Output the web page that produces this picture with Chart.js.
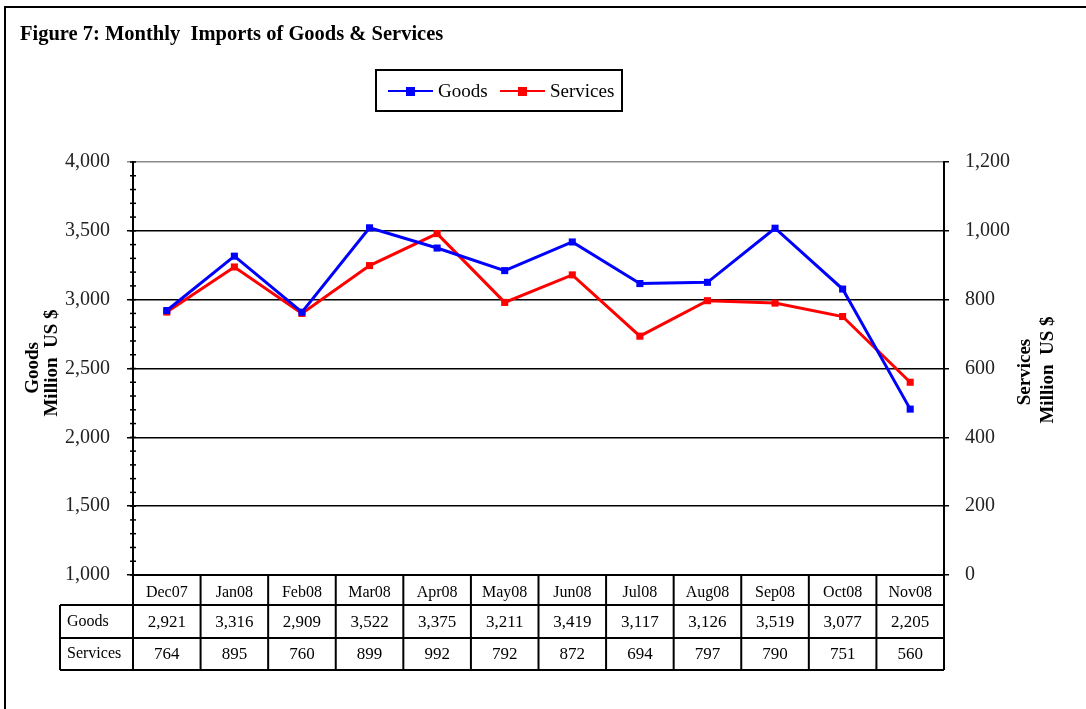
<!DOCTYPE html>
<html>
    <head>
        <title> Figure 7 </title>
        <meta charset="utf-8">
        <script src="https://cdn.jsdelivr.net/npm/chart.js"></script>
        <style>
            body { margin: 0; background: #fff; }
            canvas { display: block; }
        </style>
    </head>
    <body>
        <canvas id="ImportsChart" width="1086" height="709"></canvas>

        <script>
         // data
         const months = ['Dec07', 'Jan08', 'Feb08', 'Mar08', 'Apr08', 'May08', 'Jun08', 'Jul08', 'Aug08', 'Sep08', 'Oct08', 'Nov08'];
         const goods = [2921, 3316, 2909, 3522, 3375, 3211, 3419, 3117, 3126, 3519, 3077, 2205];
         const services = [764, 895, 760, 899, 992, 792, 872, 694, 797, 790, 751, 560];
         const goodsTicks = [1000, 1500, 2000, 2500, 3000, 3500, 4000];
         const servicesTicks = [0, 200, 400, 600, 800, 1000, 1200];

         const serif = '"Liberation Serif", "Times New Roman", serif';
         const fmt = v => v.toLocaleString('en-US');

         // frame, title, legend, axis titles, minor ticks, data table
         const extras = {
            id: 'extras',
            beforeDraw(chart) {
               const c = chart.ctx;
               c.save();
               c.fillStyle = '#fff';
               c.fillRect(0, 0, chart.width, chart.height);
               c.restore();
            },
            afterDraw(chart) {
               const c = chart.ctx;
               const x = chart.scales.x;
               const yl = chart.scales.y;
               c.save();

               // outer frame
               c.strokeStyle = '#000';
               c.lineWidth = 2;
               c.beginPath();
               c.moveTo(1086, 7);
               c.lineTo(5, 7);
               c.lineTo(5, 709);
               c.stroke();

               // title
               c.fillStyle = '#000';
               c.font = 'bold 20.5px ' + serif;
               c.textAlign = 'left';
               c.textBaseline = 'alphabetic';
               c.fillText('Figure 7: Monthly  Imports of Goods & Services', 20, 40);

               // legend
               c.lineWidth = 2;
               c.strokeRect(376, 70, 246, 41);
               c.font = '19px ' + serif;
               c.textBaseline = 'middle';
               let lx = 388;
               chart.data.datasets.forEach(ds => {
                  c.strokeStyle = ds.borderColor;
                  c.lineWidth = 2;
                  c.beginPath();
                  c.moveTo(lx, 91);
                  c.lineTo(lx + 45, 91);
                  c.stroke();
                  c.fillStyle = ds.borderColor;
                  c.fillRect(lx + 18, 87, 9, 9);
                  c.fillStyle = '#000';
                  c.fillText(ds.label, lx + 50, 92);
                  lx += 112;
               });

               // axis titles
               c.font = 'bold 19px ' + serif;
               c.textAlign = 'center';
               [[33, 368, 'Goods'], [52, 363, 'Million  US $'],
                [1025, 372, 'Services'], [1048, 370, 'Million  US $']].forEach(t => {
                  c.save();
                  c.translate(t[0], t[1]);
                  c.rotate(-Math.PI / 2);
                  c.fillText(t[2], 0, 0);
                  c.restore();
               });

               // minor ticks on the goods axis
               c.strokeStyle = '#000';
               c.lineWidth = 1.5;
               for (let v = yl.min; v <= yl.max; v += 100) {
                  const py = yl.getPixelForValue(v);
                  c.beginPath();
                  c.moveTo(yl.right - 3, py);
                  c.lineTo(yl.right + 3, py);
                  c.stroke();
               }

               // data table under the plot
               const half = (x.getPixelForValue(1) - x.getPixelForValue(0)) / 2;
               const top = x.top, r1 = 605, r2 = 638, r3 = 670, labLeft = 60;
               c.lineWidth = 2;
               c.beginPath();
               c.moveTo(x.left, top); c.lineTo(x.left, r3);
               for (let i = 0; i < months.length; i++) {
                  const px = x.getPixelForValue(i) + half;
                  c.moveTo(px, top); c.lineTo(px, r3);
               }
               c.moveTo(labLeft, r1); c.lineTo(x.right, r1);
               c.moveTo(labLeft, r2); c.lineTo(x.right, r2);
               c.moveTo(labLeft, r3); c.lineTo(x.right, r3);
               c.moveTo(labLeft, r1); c.lineTo(labLeft, r3);
               c.stroke();

               c.font = '16px ' + serif;
               c.textBaseline = 'middle';
               c.textAlign = 'left';
               c.fillText('Goods', 67, (r1 + r2) / 2);
               c.fillText('Services', 67, (r2 + r3) / 2);
               c.font = '17px ' + serif;
               c.textAlign = 'center';
               for (let i = 0; i < months.length; i++) {
                  const px = x.getPixelForValue(i);
                  c.fillText(fmt(goods[i]), px, (r1 + r2) / 2 + 1);
                  c.fillText(fmt(services[i]), px, (r2 + r3) / 2 + 1);
               }
               c.restore();
            }
         };

         const chart = {
            type: 'line',
            data: {
               labels: months,
               datasets: [{
                  label: 'Goods',
                  data: goods,
                  yAxisID: 'y',
                  borderColor: '#0000ff',
                  backgroundColor: '#0000ff',
                  borderWidth: 3,
                  pointStyle: 'rect',
                  pointRadius: 5,
                  pointBorderWidth: 0,
                  tension: 0
               }, {
                  label: 'Services',
                  data: services,
                  yAxisID: 'y1',
                  borderColor: '#ff0000',
                  backgroundColor: '#ff0000',
                  borderWidth: 3,
                  pointStyle: 'rect',
                  pointRadius: 5,
                  pointBorderWidth: 0,
                  tension: 0
               }]
            },
            options: {
               responsive: false,
               animation: false,
               layout: { padding: { top: 162, left: 0, right: 0, bottom: 0 } },
               plugins: { legend: { display: false }, title: { display: false }, tooltip: { enabled: false } },
               scales: {
                  x: {
                     offset: true,
                     grid: { display: false, drawTicks: false },
                     border: { display: true, color: '#000', width: 2 },
                     ticks: { color: '#000', font: { family: serif, size: 16 }, padding: 8, maxRotation: 0 },
                     afterFit(s) { s.height = 134; }
                  },
                  y: {
                     position: 'left',
                     min: goodsTicks[0],
                     max: goodsTicks[goodsTicks.length - 1],
                     afterBuildTicks(s) { s.ticks = goodsTicks.map(v => ({ value: v })); },
                     grid: {
                        color: ctx => ctx.tick && ctx.tick.value === goodsTicks[goodsTicks.length - 1] ? '#888' : '#000',
                        lineWidth: 1.5,
                        tickLength: 6
                     },
                     border: { display: true, color: '#000', width: 2 },
                     ticks: { color: '#222', font: { family: serif, size: 20 }, padding: 17, callback: v => fmt(v) },
                     afterFit(s) { s.width = 133; }
                  },
                  y1: {
                     position: 'right',
                     min: servicesTicks[0],
                     max: servicesTicks[servicesTicks.length - 1],
                     afterBuildTicks(s) { s.ticks = servicesTicks.map(v => ({ value: v })); },
                     grid: { drawOnChartArea: false, color: '#000', lineWidth: 1.5, tickLength: 5 },
                     border: { display: true, color: '#000', width: 2, dash: [3, 2] },
                     ticks: { color: '#222', font: { family: serif, size: 20 }, padding: 16, callback: v => fmt(v) },
                     afterFit(s) { s.width = 142; }
                  }
               }
            },
            plugins: [extras]
         };
         const ctx = document.getElementById('ImportsChart').getContext('2d');
         const myChart = new Chart(ctx, chart);
        </script>
    </body>
</html>
